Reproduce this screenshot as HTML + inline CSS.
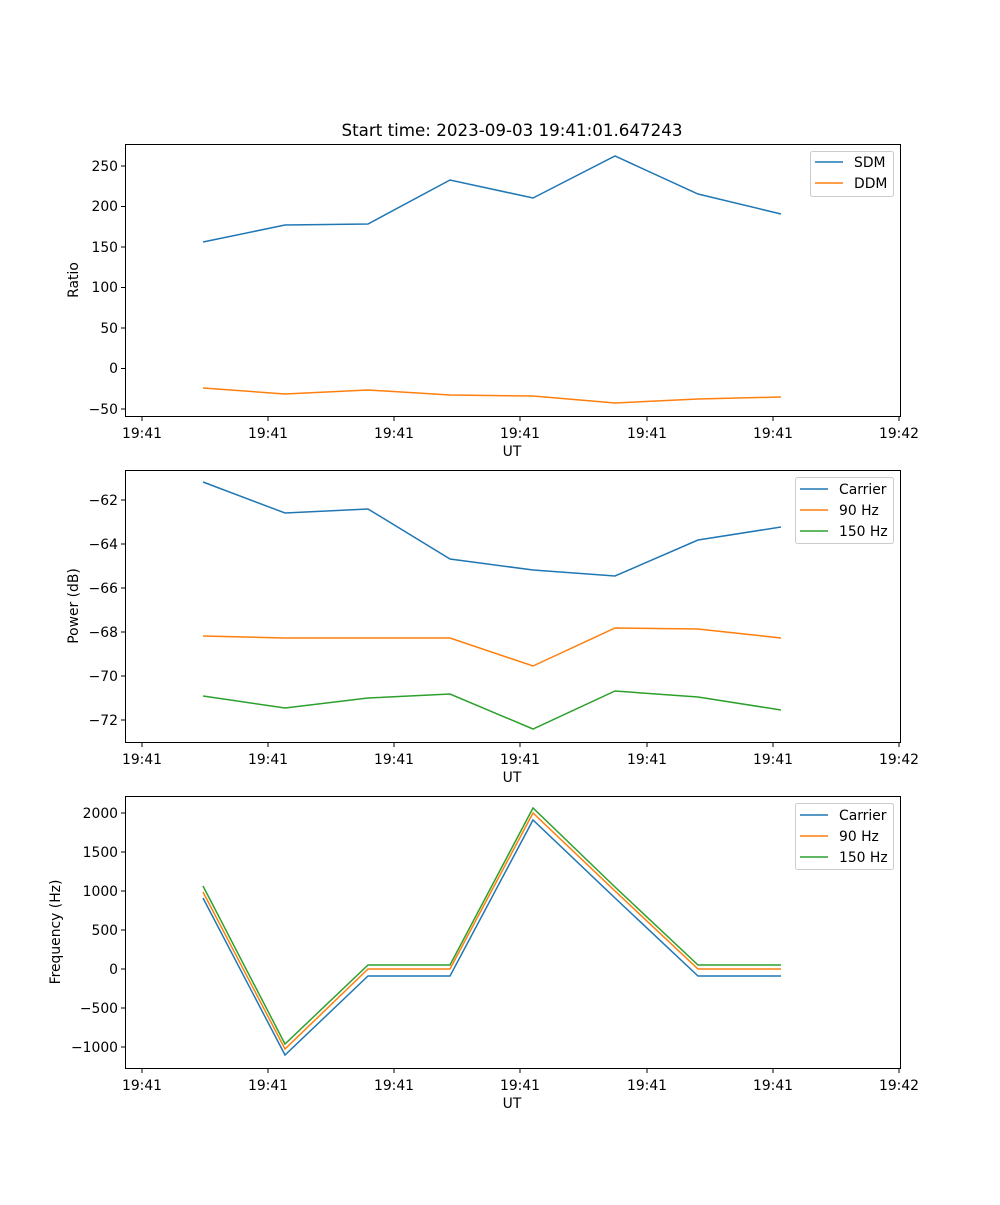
<!DOCTYPE html>
<html><head><meta charset="utf-8"><style>
body{margin:0;background:#fff}
svg text{font-family:"DejaVu Sans","Liberation Sans",sans-serif;font-size:13.9px;fill:#000}
</style></head><body>
<svg width="1000" height="1200" xmlns="http://www.w3.org/2000/svg">
<rect width="1000" height="1200" fill="#fff"/>
<text x="512" y="136" text-anchor="middle" style="font-size:16.7px">Start time: 2023-09-03 19:41:01.647243</text>

<!-- Plot 1 -->
<g>
<rect x="125.5" y="144.5" width="775" height="272" fill="none" stroke="#000" stroke-width="1"/>
<g stroke="#000">
<line x1="142" y1="417" x2="142" y2="421"/><line x1="268" y1="417" x2="268" y2="421"/><line x1="394" y1="417" x2="394" y2="421"/><line x1="520" y1="417" x2="520" y2="421"/><line x1="647" y1="417" x2="647" y2="421"/><line x1="773" y1="417" x2="773" y2="421"/><line x1="899" y1="417" x2="899" y2="421"/>
<line x1="121" y1="166" x2="125" y2="166"/><line x1="121" y1="206.5" x2="125" y2="206.5"/><line x1="121" y1="247" x2="125" y2="247"/><line x1="121" y1="287.5" x2="125" y2="287.5"/><line x1="121" y1="328" x2="125" y2="328"/><line x1="121" y1="368.5" x2="125" y2="368.5"/><line x1="121" y1="409" x2="125" y2="409"/>
</g>
<g text-anchor="middle"><text x="142" y="438">19:41</text><text x="268" y="438">19:41</text><text x="394" y="438">19:41</text><text x="520" y="438">19:41</text><text x="647" y="438">19:41</text><text x="773" y="438">19:41</text><text x="899" y="438">19:42</text></g>
<g text-anchor="end"><text x="118" y="171">250</text><text x="118" y="211">200</text><text x="118" y="252">150</text><text x="118" y="292">100</text><text x="118" y="333">50</text><text x="118" y="373">0</text><text x="118" y="414">−50</text></g>
<text x="512" y="456" text-anchor="middle">UT</text>
<text transform="translate(78,280) rotate(-90)" text-anchor="middle">Ratio</text>
<polyline fill="none" stroke="#1f77b4" stroke-width="1.5" points="203,242 285,225 368,224 450,180 533,198 615,156 698,194 781,214"/>
<polyline fill="none" stroke="#ff7f0e" stroke-width="1.5" points="203,388 285,394 368,390 450,395 533,396 615,403 698,399 781,397"/>
<rect x="810.5" y="151.5" width="83" height="45" rx="2" fill="#fff" stroke="#ccc"/>
<line x1="815" y1="162" x2="843" y2="162" stroke="#1f77b4" stroke-width="1.5"/><text x="854" y="167">SDM</text>
<line x1="815" y1="183" x2="843" y2="183" stroke="#ff7f0e" stroke-width="1.5"/><text x="854" y="188">DDM</text>
</g>

<!-- Plot 2 -->
<g>
<rect x="125.5" y="470.5" width="775" height="272" fill="none" stroke="#000"/>
<g stroke="#000">
<line x1="142" y1="743" x2="142" y2="747"/><line x1="268" y1="743" x2="268" y2="747"/><line x1="394" y1="743" x2="394" y2="747"/><line x1="520" y1="743" x2="520" y2="747"/><line x1="647" y1="743" x2="647" y2="747"/><line x1="773" y1="743" x2="773" y2="747"/><line x1="899" y1="743" x2="899" y2="747"/>
<line x1="121" y1="500" x2="125" y2="500"/><line x1="121" y1="544" x2="125" y2="544"/><line x1="121" y1="588" x2="125" y2="588"/><line x1="121" y1="632" x2="125" y2="632"/><line x1="121" y1="676" x2="125" y2="676"/><line x1="121" y1="720" x2="125" y2="720"/>
</g>
<g text-anchor="middle"><text x="142" y="764">19:41</text><text x="268" y="764">19:41</text><text x="394" y="764">19:41</text><text x="520" y="764">19:41</text><text x="647" y="764">19:41</text><text x="773" y="764">19:41</text><text x="899" y="764">19:42</text></g>
<g text-anchor="end"><text x="118" y="505">−62</text><text x="118" y="549">−64</text><text x="118" y="593">−66</text><text x="118" y="637">−68</text><text x="118" y="681">−70</text><text x="118" y="725">−72</text></g>
<text x="512" y="782" text-anchor="middle">UT</text>
<text transform="translate(78,606) rotate(-90)" text-anchor="middle">Power (dB)</text>
<polyline fill="none" stroke="#1f77b4" stroke-width="1.5" points="203,482 285,513 368,509 450,559 533,570 615,576 698,540 781,527"/>
<polyline fill="none" stroke="#ff7f0e" stroke-width="1.5" points="203,636 285,638 368,638 450,638 533,666 615,628 698,629 781,638"/>
<polyline fill="none" stroke="#2ca02c" stroke-width="1.5" points="203,696 285,708 368,698 450,694 533,729 615,691 698,697 781,710"/>
<rect x="795.5" y="477.5" width="98" height="66" rx="2" fill="#fff" stroke="#ccc"/>
<line x1="800" y1="489" x2="828" y2="489" stroke="#1f77b4" stroke-width="1.5"/><text x="839" y="494">Carrier</text>
<line x1="800" y1="510" x2="828" y2="510" stroke="#ff7f0e" stroke-width="1.5"/><text x="839" y="515">90 Hz</text>
<line x1="800" y1="531" x2="828" y2="531" stroke="#2ca02c" stroke-width="1.5"/><text x="839" y="536">150 Hz</text>
</g>

<!-- Plot 3 -->
<g>
<rect x="125.5" y="796.5" width="775" height="272" fill="none" stroke="#000"/>
<g stroke="#000">
<line x1="142" y1="1069" x2="142" y2="1073"/><line x1="268" y1="1069" x2="268" y2="1073"/><line x1="394" y1="1069" x2="394" y2="1073"/><line x1="520" y1="1069" x2="520" y2="1073"/><line x1="647" y1="1069" x2="647" y2="1073"/><line x1="773" y1="1069" x2="773" y2="1073"/><line x1="899" y1="1069" x2="899" y2="1073"/>
<line x1="121" y1="813" x2="125" y2="813"/><line x1="121" y1="852" x2="125" y2="852"/><line x1="121" y1="891" x2="125" y2="891"/><line x1="121" y1="930" x2="125" y2="930"/><line x1="121" y1="969" x2="125" y2="969"/><line x1="121" y1="1008" x2="125" y2="1008"/><line x1="121" y1="1047" x2="125" y2="1047"/>
</g>
<g text-anchor="middle"><text x="142" y="1090">19:41</text><text x="268" y="1090">19:41</text><text x="394" y="1090">19:41</text><text x="520" y="1090">19:41</text><text x="647" y="1090">19:41</text><text x="773" y="1090">19:41</text><text x="899" y="1090">19:42</text></g>
<g text-anchor="end"><text x="118" y="818">2000</text><text x="118" y="857">1500</text><text x="118" y="896">1000</text><text x="118" y="935">500</text><text x="118" y="974">0</text><text x="118" y="1013">−500</text><text x="118" y="1052">−1000</text></g>
<text x="512" y="1108" text-anchor="middle">UT</text>
<text transform="translate(60,932) rotate(-90)" text-anchor="middle">Frequency (Hz)</text>
<polyline fill="none" stroke="#1f77b4" stroke-width="1.5" points="203,898 285,1055 368,976 450,976 533,820 615,898 698,976 781,976"/>
<polyline fill="none" stroke="#ff7f0e" stroke-width="1.5" points="203,892 285,1049 368,969 450,969 533,813 615,891 698,969 781,969"/>
<polyline fill="none" stroke="#2ca02c" stroke-width="1.5" points="203,886 285,1044 368,965 450,965 533,808 615,887 698,965 781,965"/>
<rect x="795.5" y="803.5" width="98" height="66" rx="2" fill="#fff" stroke="#ccc"/>
<line x1="800" y1="815" x2="828" y2="815" stroke="#1f77b4" stroke-width="1.5"/><text x="839" y="820">Carrier</text>
<line x1="800" y1="836" x2="828" y2="836" stroke="#ff7f0e" stroke-width="1.5"/><text x="839" y="841">90 Hz</text>
<line x1="800" y1="857" x2="828" y2="857" stroke="#2ca02c" stroke-width="1.5"/><text x="839" y="862">150 Hz</text>
</g>
</svg>
</body></html>
